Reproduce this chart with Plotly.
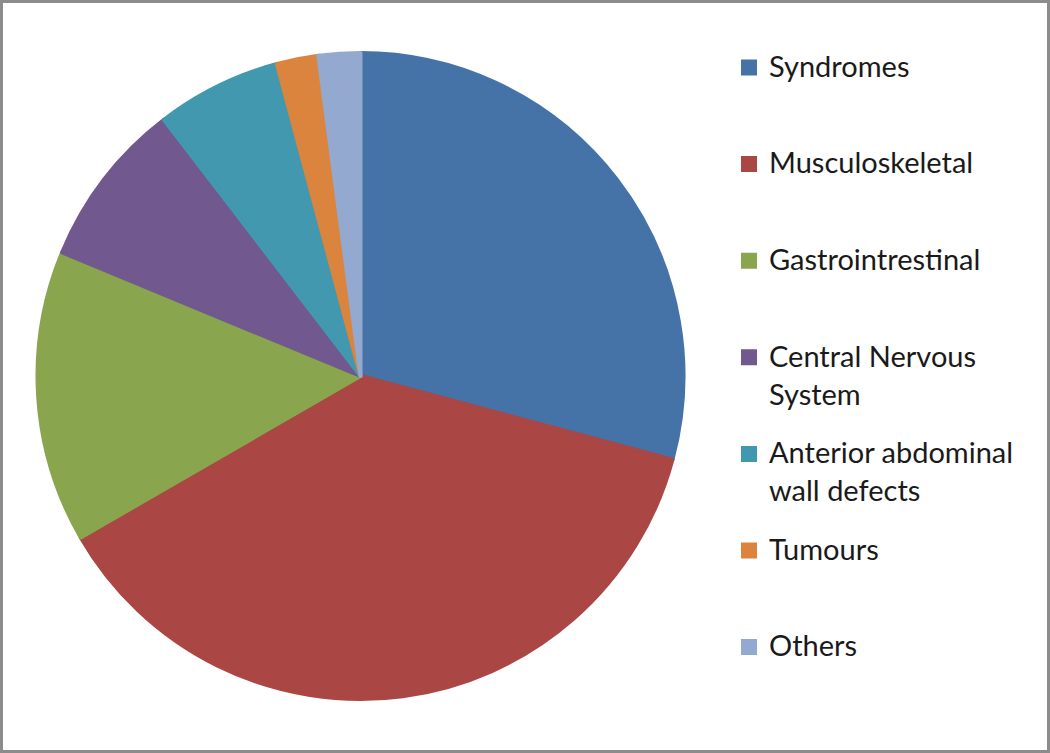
import plotly.graph_objects as go

categories = ["Syndromes", "Musculoskeletal", "Gastrointrestinal",
              "Central Nervous System", "Anterior abdominal wall defects",
              "Tumours", "Others"]
legend_lines = [["Syndromes"], ["Musculoskeletal"], ["Gastrointrestinal"],
                ["Central Nervous", "System"], ["Anterior abdominal", "wall defects"],
                ["Tumours"], ["Others"]]
values = [14, 18, 7, 4, 3, 1, 1]
colors = ["#4572A7", "#AA4643", "#89A54E", "#71588F", "#4198AF", "#DB843D", "#93A9CF"]

NB = "\u00a0"
SPAN1 = '<span style="font-size:29px">{}</span>'
SPAN2 = '<span style="font-size:29px;baseline-shift:-7px">{}</span>'


def legend_label(lines):
    parts = [NB, SPAN1.format(lines[0])] + [SPAN2.format(t) for t in lines[1:]]
    while len(parts) < 3:
        parts.append(NB)
    return "<br>".join(parts)


labels = [legend_label(l) for l in legend_lines]

W, H = 1050, 753
cx, cy, r = 360.5, 376, 323

fig = go.Figure(go.Pie(
    labels=labels,
    values=values,
    sort=False,
    direction="clockwise",
    rotation=0,
    textinfo="none",
    hovertext=categories,
    hoverinfo="text+value+percent",
    marker=dict(colors=colors, line=dict(color=colors, width=4)),
    domain=dict(x=[(cx - r) / W, (cx + r) / W], y=[1 - (cy + r) / H, 1 - (cy - r) / H]),
))

fig.update_layout(
    width=W, height=H,
    margin=dict(l=0, r=0, t=0, b=0),
    paper_bgcolor="white",
    plot_bgcolor="white",
    font=dict(family="Lato, 'Open Sans', sans-serif", color="#1a1a1a"),
    legend=dict(
        x=729 / W, xanchor="left",
        y=1 - 14.2 / H, yanchor="top",
        font=dict(size=24, family="Lato, 'Open Sans', sans-serif", color="#1a1a1a"),
        bgcolor="rgba(0,0,0,0)",
        borderwidth=0,
        traceorder="normal",
    ),
    shapes=[dict(type="rect", xref="paper", yref="paper",
                 x0=1.5 / W, x1=1 - 1.5 / W, y0=1.5 / H, y1=1 - 1.5 / H,
                 line=dict(color="#8c8c8c", width=3), fillcolor="rgba(0,0,0,0)")],
)

fig.write_html("out.html")
